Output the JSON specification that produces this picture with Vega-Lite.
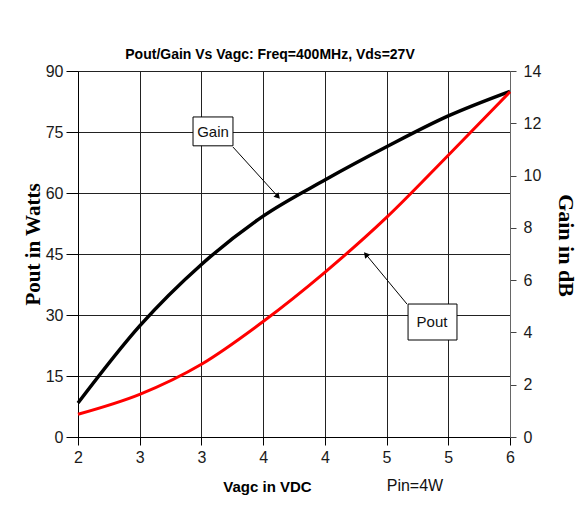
{
  "$schema": "https://vega.github.io/schema/vega-lite/v6.json",
  "width": 432,
  "height": 366,
  "autosize": {"type": "none"},
  "padding": {"left": 78, "top": 71, "right": 74, "bottom": 76},
  "background": "white",
  "config": {
    "view": {"stroke": null},
    "font": "Liberation Sans, sans-serif"
  },
  "title": {
    "text": "Pout/Gain Vs Vagc: Freq=400MHz, Vds=27V",
    "font": "Liberation Sans, sans-serif",
    "fontSize": 14,
    "fontWeight": "bold",
    "color": "#000",
    "anchor": "middle",
    "frame": "group",
    "dx": -24,
    "offset": 1
  },
  "datasets": {
    "gain": [
      {"vagc": 2, "gain_db": 1.3},
      {"vagc": 2.5714, "gain_db": 4.25},
      {"vagc": 3.1429, "gain_db": 6.6},
      {"vagc": 3.7143, "gain_db": 8.45},
      {"vagc": 4.2857, "gain_db": 9.83},
      {"vagc": 4.8571, "gain_db": 11.1},
      {"vagc": 5.4286, "gain_db": 12.28},
      {"vagc": 6, "gain_db": 13.22}
    ],
    "pout": [
      {"vagc": 2, "pout_w": 5.6},
      {"vagc": 2.5714, "pout_w": 10.5},
      {"vagc": 3.1429, "pout_w": 17.9},
      {"vagc": 3.7143, "pout_w": 28.4},
      {"vagc": 4.2857, "pout_w": 40.5},
      {"vagc": 4.8571, "pout_w": 54.0},
      {"vagc": 5.4286, "pout_w": 69.3},
      {"vagc": 6, "pout_w": 84.9}
    ],
    "one": [{}]
  },
  "layer": [
    {
      "data": {"name": "gain"},
      "mark": {"type": "line", "color": "#000", "strokeWidth": 3.5, "interpolate": "monotone"},
      "encoding": {
        "x": {
          "field": "vagc", "type": "quantitative",
          "scale": {"domain": [2, 6], "nice": false, "zero": false},
          "axis": {
            "values": [2, 2.5714286, 3.1428571, 3.7142857, 4.2857143, 4.8571429, 5.4285714, 6],
            "format": ".0f",
            "grid": true, "gridColor": "#222", "gridWidth": 1, "gridOpacity": 1,
            "domainColor": "#000", "tickColor": "#000", "tickSize": 8,
            "labelPadding": 4, "labelFontSize": 16, "labelColor": "#1a1a1a", "labelFlush": false,
            "title": "Vagc in VDC", "titleFontSize": 15, "titleFontWeight": "bold", "titleColor": "#000",
            "titleX": 189, "titleY": 49, "titleAlign": "center", "titleBaseline": "middle"
          }
        },
        "y": {
          "field": "gain_db", "type": "quantitative",
          "scale": {"domain": [0, 14], "nice": false},
          "axis": {
            "orient": "right",
            "values": [0, 2, 4, 6, 8, 10, 12, 14],
            "grid": false,
            "domainColor": "#666", "tickColor": "#444", "tickSize": 6,
            "labelPadding": 7, "labelFontSize": 16, "labelColor": "#1a1a1a", "labelFlush": false,
            "title": "Gain in dB", "titleFont": "Liberation Serif", "titleFontSize": 22, "titleFontWeight": "bold", "titleColor": "#000",
            "titleAngle": 90, "titleX": 55, "titleY": 174, "titleAlign": "center", "titleBaseline": "middle"
          }
        }
      }
    },
    {
      "layer": [
        {
          "data": {"name": "pout"},
          "mark": {"type": "line", "color": "#ff0000", "strokeWidth": 3, "interpolate": "monotone"},
          "encoding": {
            "x": {"field": "vagc", "type": "quantitative", "scale": {"domain": [2, 6], "nice": false, "zero": false}},
            "y": {
              "field": "pout_w", "type": "quantitative",
              "scale": {"domain": [0, 90], "nice": false},
              "axis": {
                "orient": "left",
                "values": [0, 15, 30, 45, 60, 75, 90],
                "grid": true, "gridColor": "#222", "gridWidth": 1, "gridOpacity": 1,
                "domainColor": "#000", "tickColor": "#000", "tickSize": 12,
                "labelPadding": 3, "labelFontSize": 16, "labelColor": "#1a1a1a", "labelFlush": false,
                "title": "Pout in Watts", "titleFont": "Liberation Serif", "titleFontSize": 21, "titleFontWeight": "bold", "titleColor": "#000",
                "titleAngle": 270, "titleX": -45, "titleY": 173, "titleAlign": "center", "titleBaseline": "middle"
              }
            }
          }
        },
        {
          "data": {"name": "one"},
          "mark": {"type": "rule", "color": "#000", "strokeWidth": 1},
          "encoding": {
            "x": {"datum": 3.435, "scale": {"domain": [2, 6], "nice": false, "zero": false}},
            "x2": {"datum": 3.845},
            "y": {"datum": 71.3, "scale": {"domain": [0, 90], "nice": false}},
            "y2": {"datum": 59.3}
          }
        },
        {
          "data": {"name": "one"},
          "mark": {"type": "rule", "color": "#000", "strokeWidth": 1},
          "encoding": {
            "x": {"datum": 5.046, "scale": {"domain": [2, 6], "nice": false, "zero": false}},
            "x2": {"datum": 4.671},
            "y": {"datum": 32.7, "scale": {"domain": [0, 90], "nice": false}},
            "y2": {"datum": 44.73}
          }
        },
        {
          "data": {"name": "one"},
          "mark": {"type": "point", "shape": "triangle", "filled": true, "color": "#000", "opacity": 1, "size": 45, "angle": 138},
          "encoding": {
            "x": {"datum": 3.845, "scale": {"domain": [2, 6], "nice": false, "zero": false}},
            "y": {"datum": 59.3, "scale": {"domain": [0, 90], "nice": false}}
          }
        },
        {
          "data": {"name": "one"},
          "mark": {"type": "point", "shape": "triangle", "filled": true, "color": "#000", "opacity": 1, "size": 45, "angle": 320},
          "encoding": {
            "x": {"datum": 4.671, "scale": {"domain": [2, 6], "nice": false, "zero": false}},
            "y": {"datum": 44.73, "scale": {"domain": [0, 90], "nice": false}}
          }
        },
        {
          "data": {"name": "one"},
          "mark": {"type": "rect", "fill": "white", "stroke": "#000", "strokeWidth": 1},
          "encoding": {
            "x": {"datum": 3.065, "scale": {"domain": [2, 6], "nice": false, "zero": false}},
            "x2": {"datum": 3.435},
            "y": {"datum": 78.7, "scale": {"domain": [0, 90], "nice": false}},
            "y2": {"datum": 71.6}
          }
        },
        {
          "data": {"name": "one"},
          "mark": {"type": "rect", "fill": "white", "stroke": "#000", "strokeWidth": 1},
          "encoding": {
            "x": {"datum": 5.056, "scale": {"domain": [2, 6], "nice": false, "zero": false}},
            "x2": {"datum": 5.509},
            "y": {"datum": 32.7, "scale": {"domain": [0, 90], "nice": false}},
            "y2": {"datum": 23.85}
          }
        },
        {
          "data": {"name": "one"},
          "mark": {"type": "text", "text": "Gain", "fontSize": 15, "color": "#111", "align": "center", "baseline": "middle"},
          "encoding": {
            "x": {"datum": 3.25, "scale": {"domain": [2, 6], "nice": false, "zero": false}},
            "y": {"datum": 75.1, "scale": {"domain": [0, 90], "nice": false}}
          }
        },
        {
          "data": {"name": "one"},
          "mark": {"type": "text", "text": "Pout", "fontSize": 15, "color": "#111", "align": "center", "baseline": "middle"},
          "encoding": {
            "x": {"datum": 5.278, "scale": {"domain": [2, 6], "nice": false, "zero": false}},
            "y": {"datum": 28.2, "scale": {"domain": [0, 90], "nice": false}}
          }
        },
        {
          "data": {"name": "one"},
          "mark": {"type": "text", "text": "Pin=4W", "fontSize": 16, "color": "#111", "align": "center", "baseline": "middle"},
          "encoding": {
            "x": {"datum": 5.12, "scale": {"domain": [2, 6], "nice": false, "zero": false}},
            "y": {"datum": -12.05, "scale": {"domain": [0, 90], "nice": false}}
          }
        }
      ]
    }
  ],
  "resolve": {"scale": {"y": "independent"}}
}
